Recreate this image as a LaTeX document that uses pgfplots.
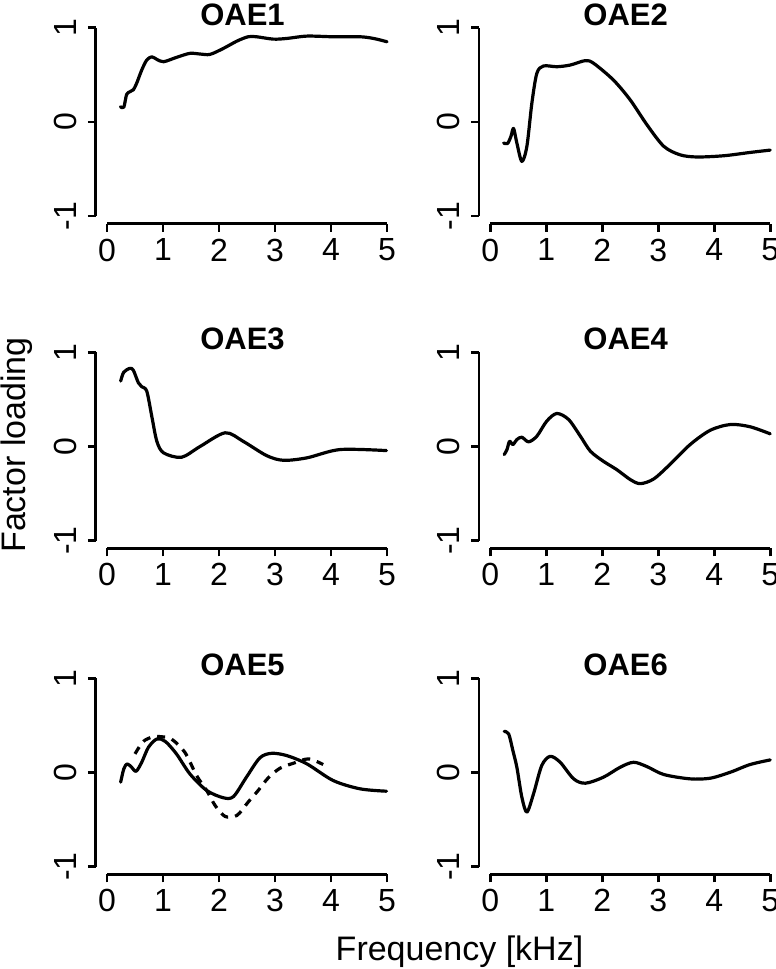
\documentclass[border=0pt]{standalone}
\usepackage{fontspec}
\setmainfont{Liberation Sans}
\usepackage{pgfplots}
\pgfplotsset{compat=1.18}
\pgfplotsset{rpanel/.style={
  scale only axis, width=302.4pt, height=203.5pt,
  xmin=-0.2, xmax=5.2, ymin=-1.08, ymax=1.08,
  axis x line*=bottom, axis y line*=left,
  axis line style={draw=none},
  xtick={0,1,2,3,4,5}, xticklabels={0,1,2,3,4,5},
  ytick={-1,0,1}, yticklabels={-1,0,1},
  tick align=outside, major tick length=8pt,
  every tick/.style={black, line width=2.6pt},
  tick label style={font=\fontsize{32}{36}\selectfont, inner sep=0pt},
  yticklabel style={rotate=90, anchor=south},
  xticklabel style={anchor=north},
  xticklabel shift=7pt, yticklabel shift=11pt,
  clip=false,
  every axis title/.style={font=\bfseries\fontsize{31}{34}\selectfont, at={(0.485,1)}, anchor=base, yshift=-5pt, inner sep=0pt},
},
rline/.style={black, line width=3.2pt, smooth, tension=0.5, line cap=round, line join=round, mark=none},
}
\newcommand{\raxes}{%
  \draw[line width=2.7pt] (axis cs:0,-1.08) -- (axis cs:5,-1.08);
  \draw[line width=2.7pt] (axis cs:-0.2,-1) -- (axis cs:-0.2,1);}
\begin{document}
\begin{tikzpicture}
\path[use as bounding box] (0pt,0pt) rectangle (776pt,969pt);
% OAE1
\begin{axis}[rpanel, at={(95.8pt,745.4pt)}, anchor=south west, title={OAE1}]
\addplot[rline] coordinates {(0.24,0.16)(0.30,0.155)(0.35,0.29)(0.41,0.32)(0.47,0.34)(0.53,0.41)(0.62,0.55)(0.71,0.656)(0.80,0.69)(0.89,0.663)(1.01,0.638)(1.24,0.684)(1.48,0.727)(1.66,0.72)(1.84,0.716)(2.08,0.78)(2.32,0.857)(2.52,0.903)(2.67,0.903)(2.97,0.878)(3.21,0.885)(3.57,0.91)(4.04,0.903)(4.52,0.903)(4.76,0.885)(5.0,0.85)};
\raxes
\end{axis}
% OAE2
\begin{axis}[rpanel, at={(479pt,745.4pt)}, anchor=south west, title={OAE2}]
\addplot[rline] coordinates {(0.24,-0.225)(0.31,-0.23)(0.37,-0.155)(0.417,-0.07)(0.476,-0.225)(0.565,-0.42)(0.655,-0.26)(0.744,0.198)(0.833,0.515)(0.952,0.593)(1.19,0.585)(1.43,0.603)(1.70,0.65)(1.85,0.62)(2.20,0.444)(2.5,0.233)(2.80,-0.032)(3.10,-0.26)(3.39,-0.35)(3.69,-0.373)(4.17,-0.36)(4.64,-0.325)(5.0,-0.30)};
\raxes
\end{axis}
% OAE3
\begin{axis}[rpanel, at={(95.8pt,420.7pt)}, anchor=south west, title={OAE3}]
\addplot[rline] coordinates {(0.244,0.695)(0.30,0.79)(0.41,0.83)(0.47,0.81)(0.56,0.677)(0.62,0.635)(0.71,0.588)(0.80,0.32)(0.89,0.056)(1.01,-0.067)(1.33,-0.114)(1.66,0.0)(2.11,0.146)(2.43,0.056)(2.85,-0.096)(3.15,-0.146)(3.57,-0.12)(4.16,-0.032)(4.99,-0.043)};
\raxes
\end{axis}
% OAE4
\begin{axis}[rpanel, at={(479pt,420.7pt)}, anchor=south west, title={OAE4}]
\addplot[rline] coordinates {(0.25,-0.085)(0.30,-0.032)(0.345,0.056)(0.405,0.021)(0.476,0.074)(0.565,0.099)(0.685,0.05)(0.833,0.11)(1.01,0.27)(1.19,0.351)(1.40,0.287)(1.61,0.11)(1.79,-0.05)(2.02,-0.156)(2.26,-0.245)(2.5,-0.35)(2.68,-0.394)(2.92,-0.344)(3.21,-0.19)(3.57,0.021)(3.93,0.173)(4.29,0.234)(4.64,0.21)(5.0,0.135)};
\raxes
\end{axis}
% OAE5
\begin{axis}[rpanel, at={(95.8pt,94.7pt)}, anchor=south west, title={OAE5}]
\addplot[rline] coordinates {(0.244,-0.102)(0.30,0.039)(0.36,0.092)(0.44,0.056)(0.52,0.014)(0.62,0.109)(0.74,0.268)(0.89,0.356)(1.04,0.331)(1.24,0.198)(1.48,-0.014)(1.78,-0.19)(2.08,-0.268)(2.26,-0.254)(2.49,-0.049)(2.73,0.156)(2.94,0.204)(3.21,0.18)(3.57,0.092)(4.04,-0.085)(4.52,-0.173)(4.99,-0.198)};
\addplot[rline, dash pattern=on 8pt off 7pt, line cap=butt] coordinates {(0.50,0.198)(0.65,0.331)(0.83,0.381)(0.95,0.381)(1.15,0.356)(1.39,0.215)(1.60,-0.032)(1.78,-0.19)(1.93,-0.349)(2.11,-0.466)(2.32,-0.455)(2.52,-0.314)(2.70,-0.19)(2.88,-0.056)(3.09,0.046)(3.33,0.099)(3.60,0.145)(3.86,0.085)};
\raxes
\end{axis}
% OAE6
\begin{axis}[rpanel, at={(479pt,94.7pt)}, anchor=south west, title={OAE6}]
\addplot[rline] coordinates {(0.25,0.437)(0.33,0.41)(0.405,0.233)(0.476,0.056)(0.565,-0.261)(0.655,-0.42)(0.774,-0.225)(0.92,0.074)(1.07,0.172)(1.25,0.109)(1.49,-0.067)(1.70,-0.113)(2.02,-0.05)(2.32,0.056)(2.56,0.109)(2.80,0.063)(3.10,-0.021)(3.57,-0.067)(3.93,-0.06)(4.29,0.004)(4.64,0.085)(5.0,0.134)};
\raxes
\end{axis}
\node[rotate=90, font=\fontsize{34}{40}\selectfont, inner sep=0pt] at (17pt,524pt) {Factor loading};
\node[font=\fontsize{34}{40}\selectfont, inner sep=0pt] at (459.5pt,17pt) {Frequency [kHz]};
\end{tikzpicture}
\end{document}
